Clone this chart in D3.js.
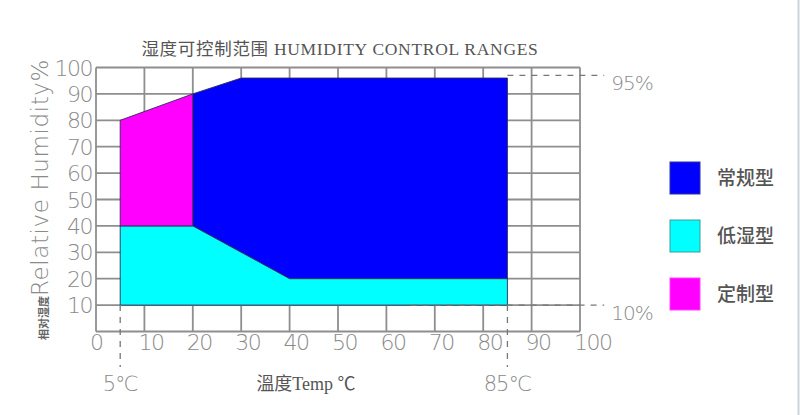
<!DOCTYPE html>
<html><head><meta charset="utf-8">
<script src="https://cdn.jsdelivr.net/npm/d3@7/dist/d3.min.js"></script>
<style>
html,body{margin:0;padding:0;background:#fff;}
svg{display:block;}
</style></head>
<body>
<svg id="chart" width="800" height="415"></svg>
<script>
// ---- data ----
const titleText = "湿度可控制范围 HUMIDITY CONTROL RANGES";
const xTickValues = [0, 10, 20, 30, 40, 50, 60, 70, 80, 90, 100];
const yTickValues = [10, 20, 30, 40, 50, 60, 70, 80, 90, 100];
const seriesNames = ["常规型", "低湿型", "定制型"];
const seriesColors = ["#0000ff", "#00ffff", "#ff00ff"];
// polygon outlines (temperature ℃, relative humidity %)
const regularTemp = [20, 30, 85, 85, 40, 20];
const regularHum  = [90, 96, 96, 20, 20, 40];
const lowTemp = [5, 20, 40, 85, 85, 5];
const lowHum  = [40, 40, 20, 20, 10, 10];
const customTemp = [5, 20, 20, 5];
const customHum  = [80, 90, 40, 40];
// reference markers
const markerTemps = [5, 85];
const markerLabels = ["5℃", "85℃"];
const limitHums = [97, 10];
const limitFrom = [85, 65];
const limitTo = [105, 105];
const limitLabels = ["95%", "10%"];
const xTitle = "溫度Temp ℃";
const yTitleSmall = "相对湿度";
const yTitle = "Relative Humidity%";

// ---- drawing ----
const svg = d3.select("#chart");
const x = d3.scaleLinear().domain([0, 100]).range([96, 580]);
const y = d3.scaleLinear().domain([0, 100]).range([331.5, 67.5]);
const gridColor = "#8e8e8e";
const tickFont = "'DejaVu Sans', sans-serif";

// window edge line
svg.append("line").attr("x1", 798.5).attr("x2", 798.5).attr("y1", 0).attr("y2", 415)
  .attr("stroke", "#cdd3dc").attr("stroke-width", 2);

// grid
const grid = svg.append("g");
grid.selectAll("line.v").data(xTickValues).join("line")
  .attr("x1", d => x(d)).attr("x2", d => x(d))
  .attr("y1", y(100)).attr("y2", y(0))
  .attr("stroke", gridColor).attr("stroke-width", 1.8);
grid.selectAll("line.h").data([0].concat(yTickValues)).join("line")
  .attr("class", "h")
  .attr("x1", x(0)).attr("x2", x(100))
  .attr("y1", d => y(d)).attr("y2", d => y(d))
  .attr("stroke", gridColor).attr("stroke-width", 1.8);

// polygons
const polys = [
  {temp: regularTemp, hum: regularHum, color: seriesColors[0]},
  {temp: lowTemp, hum: lowHum, color: seriesColors[1]},
  {temp: customTemp, hum: customHum, color: seriesColors[2]}
];
const line = d3.line().x(d => x(d[0])).y(d => y(d[1])).curve(d3.curveLinearClosed);
svg.append("g").selectAll("path").data(polys).join("path")
  .attr("d", p => line(p.temp.map((t, i) => [t, p.hum[i]])))
  .attr("fill", p => p.color)
  .attr("stroke", "#2a2a55").attr("stroke-width", 0.9);

// dashed markers
const dash = svg.append("g").attr("stroke", "#777").attr("stroke-width", 1.3)
  .attr("stroke-dasharray", "6,6").attr("fill", "none");
markerTemps.forEach(t => {
  dash.append("line").attr("x1", x(t)).attr("x2", x(t))
    .attr("y1", y(10)).attr("y2", 367);
});
limitHums.forEach((h, i) => {
  dash.append("line").attr("x1", x(limitFrom[i])).attr("x2", x(limitTo[i]))
    .attr("y1", y(h)).attr("y2", y(h));
});

// limit labels
svg.append("g").selectAll("text").data(limitHums).join("text")
  .attr("x", x(limitTo[0]) + 7)
  .attr("y", h => y(h) + 15)
  .attr("font-family", tickFont).attr("font-weight", 200)
  .attr("font-size", 20).attr("fill", "#8a8a8a")
  .attr("letter-spacing", -1)
  .text((h, i) => limitLabels[i]);

// y tick labels
svg.append("g").selectAll("text").data(yTickValues).join("text")
  .attr("x", 92).attr("y", d => y(d) + 8)
  .attr("text-anchor", "end")
  .attr("font-family", tickFont).attr("font-weight", 200)
  .attr("font-size", 22).attr("fill", "#8a8a8a")
  .attr("letter-spacing", -1.5)
  .text(d => d);

// x tick labels
svg.append("g").selectAll("text").data(xTickValues).join("text")
  .attr("x", d => x(d) - 6).attr("y", 350)
  .attr("text-anchor", "start")
  .attr("font-family", tickFont).attr("font-weight", 200)
  .attr("font-size", 22).attr("fill", "#8a8a8a")
  .attr("letter-spacing", -1.5)
  .text(d => d);

// marker labels
svg.append("g").selectAll("text").data(markerTemps).join("text")
  .attr("x", d => x(d)).attr("y", 391)
  .attr("text-anchor", "middle")
  .attr("font-family", tickFont).attr("font-weight", 200)
  .attr("font-size", 21).attr("fill", "#8a8a8a")
  .attr("letter-spacing", -1)
  .text((d, i) => markerLabels[i]);

// title
svg.append("text").attr("x", 340).attr("y", 55)
  .attr("text-anchor", "middle")
  .attr("font-family", "'Liberation Serif', 'Noto Sans CJK SC', serif")
  .attr("font-size", 17.5).attr("letter-spacing", 0.7).attr("fill", "#555")
  .text(titleText);

// x title
svg.append("text").attr("x", 306).attr("y", 390)
  .attr("text-anchor", "middle")
  .attr("font-family", "'Liberation Serif', 'Noto Sans CJK SC', serif")
  .attr("font-size", 18).attr("fill", "#555")
  .text(xTitle);

// y title
const yt = svg.append("text")
  .attr("transform", "translate(48,340) rotate(-90)")
  .attr("text-anchor", "start")
  .attr("fill", "#8a8a8a");
yt.append("tspan").attr("font-family", "'Noto Sans CJK SC', sans-serif")
  .attr("font-size", 11).attr("font-weight", 700).attr("fill", "#666").text(yTitleSmall);
yt.append("tspan").attr("font-family", tickFont).attr("font-weight", 200)
  .attr("font-size", 23).attr("letter-spacing", 0.6).text(yTitle);

// legend
const legendTop = [162, 220, 278];
const lg = svg.append("g");
lg.selectAll("rect").data(seriesNames).join("rect")
  .attr("x", 670).attr("y", (d, i) => legendTop[i])
  .attr("width", 30).attr("height", 32)
  .attr("fill", (d, i) => seriesColors[i])
  .attr("stroke", (d, i) => ["#3030a0", "#409a9a", "#ff40ff"][i]).attr("stroke-width", 1);
lg.selectAll("text").data(seriesNames).join("text")
  .attr("x", 717).attr("y", (d, i) => legendTop[i] + 23)
  .attr("font-family", "'Noto Sans CJK SC', sans-serif")
  .attr("font-size", 19).attr("font-weight", 500).attr("fill", "#555")
  .text(d => d);
</script>
</body></html>
